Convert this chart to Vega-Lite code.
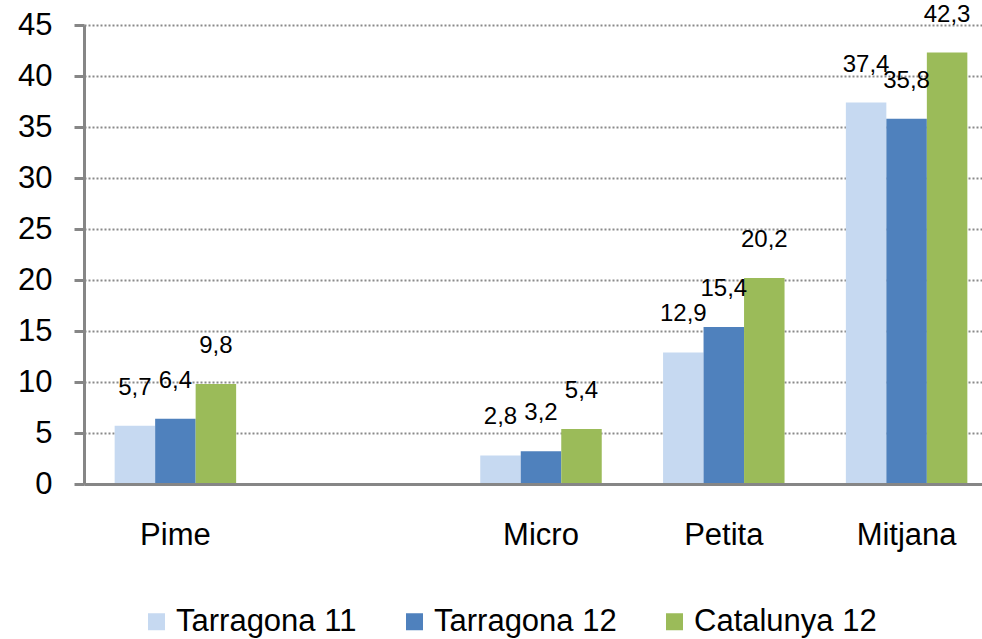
{
  "$schema": "https://vega.github.io/schema/vega-lite/v6.json",
  "autosize": "none",
  "padding": {"left": 84, "top": 25, "right": 0, "bottom": 155},
  "width": 914,
  "height": 459,
  "config": {
    "view": {"stroke": null},
    "font": "Liberation Sans",
    "locale": {"number": {"decimal": ",", "thousands": ".", "grouping": [3], "currency": ["", " €"]}}
  },
  "data": {
    "values": [
      {"cat": "Pime", "series": "Tarragona 11", "value": 5.7},
      {"cat": "Pime", "series": "Tarragona 12", "value": 6.4},
      {"cat": "Pime", "series": "Catalunya 12", "value": 9.8},
      {"cat": "Micro", "series": "Tarragona 11", "value": 2.8},
      {"cat": "Micro", "series": "Tarragona 12", "value": 3.2},
      {"cat": "Micro", "series": "Catalunya 12", "value": 5.4},
      {"cat": "Petita", "series": "Tarragona 11", "value": 12.9},
      {"cat": "Petita", "series": "Tarragona 12", "value": 15.4},
      {"cat": "Petita", "series": "Catalunya 12", "value": 20.2},
      {"cat": "Mitjana", "series": "Tarragona 11", "value": 37.4},
      {"cat": "Mitjana", "series": "Tarragona 12", "value": 35.8},
      {"cat": "Mitjana", "series": "Catalunya 12", "value": 42.3}
    ]
  },
  "encoding": {
    "x": {
      "field": "cat", "type": "nominal",
      "scale": {"domain": ["Pime", " ", "Micro", "Petita", "Mitjana"], "paddingInner": 0, "paddingOuter": 0},
      "axis": {
        "title": null, "labelAngle": 0, "ticks": false, "labelPadding": 36,
        "labelFontSize": 31, "labelColor": "#000", "labelFont": "Liberation Sans",
        "domainColor": "#868686", "domainWidth": 3, "grid": false, "zindex": 1
      }
    },
    "xOffset": {
      "field": "series", "type": "nominal",
      "scale": {"domain": ["Tarragona 11", "Tarragona 12", "Catalunya 12"], "paddingInner": 0, "paddingOuter": 0.757}
    },
    "y": {
      "field": "value", "type": "quantitative",
      "scale": {"domain": [0, 45]},
      "axis": {
        "title": null, "values": [0, 5, 10, 15, 20, 25, 30, 35, 40, 45],
        "labelFontSize": 31, "labelColor": "#000", "labelFont": "Liberation Sans",
        "tickSize": 10, "tickColor": "#868686", "tickWidth": 3, "labelPadding": 22,
        "domainColor": "#868686", "domainWidth": 3,
        "grid": true, "gridColor": "#8a8a8a", "gridDash": [2, 2], "gridWidth": 2
      }
    }
  },
  "layer": [
    {
      "mark": {"type": "bar"},
      "encoding": {
        "color": {
          "field": "series", "type": "nominal",
          "scale": {"domain": ["Tarragona 11", "Tarragona 12", "Catalunya 12"], "range": ["#C6D9F1", "#4F81BD", "#9BBB59"]},
          "legend": {
            "title": null, "orient": "none", "direction": "horizontal",
            "legendX": 57, "legendY": 581, "padding": 0,
            "symbolType": "square", "symbolSize": 289, "symbolStrokeWidth": 0,
            "labelFontSize": 31, "labelColor": "#000", "labelFont": "Liberation Sans",
            "labelOffset": 4, "columnPadding": 42, "labelLimit": 400
          }
        }
      }
    },
    {
      "mark": {"type": "text", "dy": -38, "fontSize": 24, "color": "#000", "font": "Liberation Sans", "baseline": "middle"},
      "encoding": {
        "text": {"field": "value", "type": "quantitative", "format": ".1f"}
      }
    }
  ]
}
